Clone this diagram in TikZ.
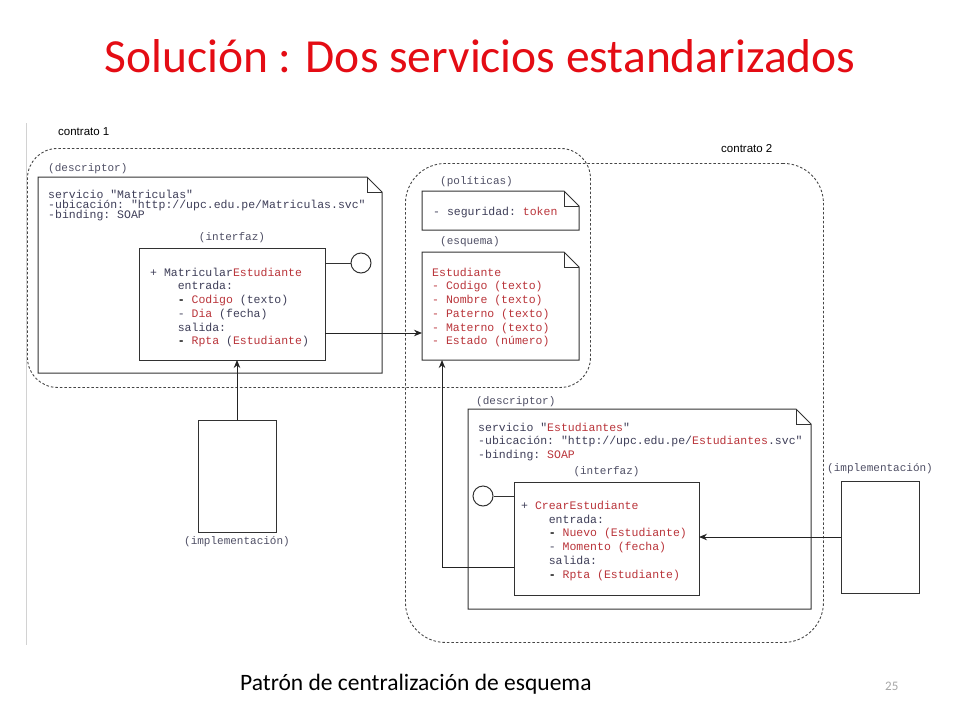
\documentclass[tikz,border=0pt]{standalone}
\usepackage{fontspec}
\setmainfont{Liberation Serif}
\setsansfont{Liberation Sans}
\setmonofont{Liberation Mono}
\newfontfamily\calibri{Carlito}
\usepackage{tikz}
\usetikzlibrary{arrows.meta,positioning}

\definecolor{titlered}{RGB}{228,12,20}
\definecolor{txtdark}{RGB}{62,62,88}
\definecolor{txtred}{RGB}{185,52,58}
\definecolor{labelgray}{RGB}{78,78,100}
\definecolor{framegray}{RGB}{50,50,50}
\definecolor{dashgray}{RGB}{70,70,70}
\definecolor{linkgray}{RGB}{35,35,35}

\newcommand{\rtxt}[1]{\textcolor{txtred}{#1}}
\newcommand{\monoind}{\hspace*{27.6pt}}
\newcommand{\tightlines}{\lineskiplimit=-20pt\relax}

\begin{document}
\begin{tikzpicture}[
x=1pt, y=-1pt,
boxframe/.style={draw=framegray, line width=1pt, inner sep=0pt, outer sep=0pt, anchor=north west},
notebox/.style={draw=none, inner sep=0pt, outer sep=0pt, anchor=north west},
noteline/.style={draw=framegray, line width=1pt},
contract/.style={draw=dashgray, line width=0.9pt, dash pattern=on 2.5pt off 2pt, inner sep=0pt, anchor=north west},
monotext/.style={font={\ttfamily\fontsize{11.5}{13.7}\selectfont\tightlines}, text=txtdark, align=left, inner sep=0pt, anchor=north west},
tagtext/.style={font=\ttfamily\fontsize{11}{13}\selectfont, text=labelgray, inner sep=0pt},
cname/.style={font=\sffamily\fontsize{11.5}{14}\selectfont, inner sep=0pt, anchor=west},
lolli/.style={circle, draw=framegray, line width=1pt, minimum size=20pt, inner sep=0pt},
flow/.style={-{Stealth[length=8pt,width=6.5pt]}, draw=linkgray, line width=1pt}
]
    \useasboundingbox (0,0) rectangle (960,720);

    % Title
    \node[font=\calibri\fontsize{47.5}{56}\selectfont, text=titlered, anchor=base, inner sep=0pt] (title) at (480,72) {Solución : Dos servicios estandarizados};

    % Left border of the drawing
    \draw[gray!35, line width=0.8pt] (26,123) -- (26,645);

    % Contracts
    \node[contract, rounded corners=30pt, minimum width=563pt, minimum height=239pt] (cont1) at (27,148) {};
    \node[contract, rounded corners=40pt, minimum width=418pt, minimum height=479pt] (cont2) at (405,163) {};
    \node[cname] (cname1) at (58,132) {contrato 1};
    \node[cname] (cname2) at (721,149) {contrato 2};

    % Notes
    \node[notebox, minimum width=344pt, minimum height=196pt] (desc1) at (38,177) {};
    \node[notebox, minimum width=157pt, minimum height=39pt] (pol) at (422,191) {};
    \node[notebox, minimum width=157pt, minimum height=108pt] (schema) at (422,252) {};
    \node[notebox, minimum width=343pt, minimum height=200pt] (desc2) at (468,409) {};
    \foreach \n in {desc1,pol,schema,desc2}{
        \draw[noteline] (\n.north west) -- ([xshift=-15pt]\n.north east) -- ([yshift=-15pt]\n.north east) -- (\n.south east) -- (\n.south west) -- cycle;
        \draw[noteline] ([xshift=-15pt]\n.north east) |- ([yshift=-15pt]\n.north east);
    }

    % Interfaces and implementations
    \node[boxframe, minimum width=186pt, minimum height=112pt] (intf1) at (139,248) {};
    \node[boxframe, minimum width=185pt, minimum height=113pt] (intf2) at (514,482) {};
    \node[boxframe, minimum width=78pt, minimum height=112pt] (impl1) at (198,420) {};
    \node[boxframe, minimum width=78pt, minimum height=112pt] (impl2) at (841,481) {};

    % Labels
    \node[tagtext, anchor=west] (desc1tag) at (48,169) {(descriptor)};
    \node[tagtext, anchor=west] (poltag) at (440,182) {(políticas)};
    \node[tagtext, anchor=west] (schematag) at (440,242) {(esquema)};
    \node[tagtext, anchor=west] (desc2tag) at (476,402) {(descriptor)};
    \node[tagtext, above=5pt of intf1] (intf1tag) {(interfaz)};
    \node[tagtext, above=5pt of intf2] (intf2tag) {(interfaz)};
    \node[tagtext, below=4pt of impl1] (impl1tag) {(implementación)};
    \node[tagtext, above=7pt of impl2] (impl2tag) {(implementación)};

    % Texts
    \node[monotext, font={\ttfamily\fontsize{11.5}{10.4}\selectfont\tightlines}] (desc1txt) at (48,189.5) {servicio "Matriculas"\\-ubicación: "http://upc.edu.pe/Matriculas.svc"\\-binding: SOAP};
    \node[monotext] (intf1txt) at (150,267.7) {+ Matricular\rtxt{Estudiante}\\
        \monoind entrada:\\
        \monoind\textcolor{black}{\textbf{-}} \rtxt{Codigo} (texto)\\
        \monoind- \rtxt{Dia} (fecha)\\
        \monoind salida:\\
        \monoind\textcolor{black}{\textbf{-}} \rtxt{Rpta} (\rtxt{Estudiante})};
    \node[monotext] (poltxt) at (433,207.2) {- seguridad: \rtxt{token}};
    \node[monotext, text=txtred] (schematxt) at (432,267.7) {Estudiante\\- Codigo (texto)\\- Nombre (texto)\\- Paterno (texto)\\- Materno (texto)\\- Estado (número)};
    \node[monotext] (desc2txt) at (478,422.7) {servicio "\rtxt{Estudiantes}"\\-ubicación: "http://upc.edu.pe/\rtxt{Estudiantes}.svc"\\-binding: \rtxt{SOAP}};
    \node[monotext] (intf2txt) at (521,501) {+ \rtxt{CrearEstudiante}\\
        \monoind entrada:\\
        \monoind\textcolor{black}{\textbf{-}} \rtxt{Nuevo (Estudiante)}\\
        \monoind- \rtxt{Momento (fecha)}\\
        \monoind salida:\\
        \monoind\textcolor{black}{\textbf{-}} \rtxt{Rpta (Estudiante)}};

    % Provided interfaces
    \node[lolli] (port1) at (361,263) {};
    \node[lolli] (port2) at (483,496) {};
    \draw[noteline] (intf1.east |- port1) -- (port1);
    \draw[noteline] (port2) -- (intf2.west |- port2);

    % Dependencies
    \draw[flow] (intf1.east |- 0,333) -- (schema.west |- 0,333);
    \draw[flow] (impl1.north) -- (impl1.north |- intf1.south);
    \draw[flow] (intf2.west |- 0,567) -| ([xshift=20pt]schema.south west);
    \draw[flow] (impl2.west) -- (impl2.west -| intf2.east);

    % Footer
    \node[font=\calibri\fontsize{23.5}{28}\selectfont, anchor=base west, inner sep=0pt] (caption) at (240,690) {Patrón de centralización de esquema};
    \node[font=\calibri\fontsize{13}{15}\selectfont, text=gray!70, anchor=base west, inner sep=0pt] (pagenum) at (885,690) {25};
\end{tikzpicture}
\end{document}
